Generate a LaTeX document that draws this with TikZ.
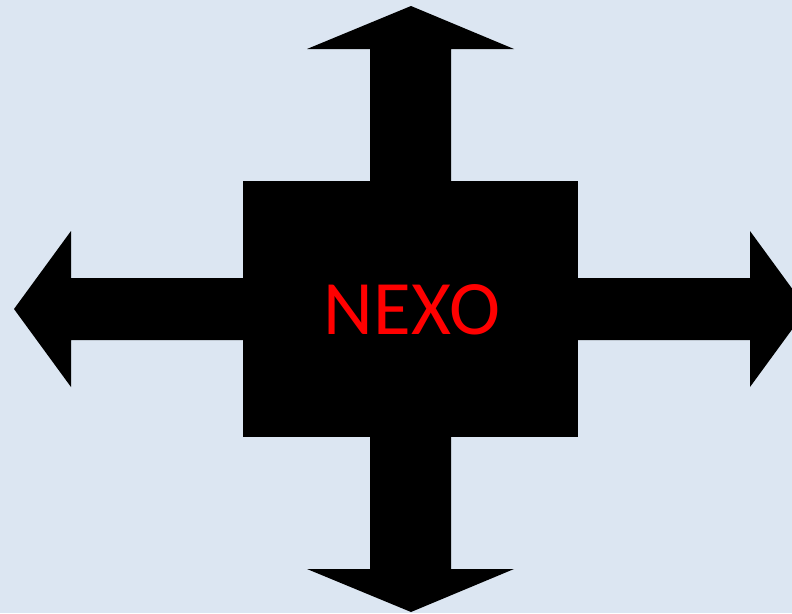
\documentclass[tikz,border=0pt]{standalone}
\usepackage{fontspec}
\newfontfamily\nexofont{Carlito}
\usetikzlibrary{positioning}
\definecolor{Sky}{HTML}{DCE6F2}
\definecolor{Ink}{HTML}{000000}
\definecolor{NexoRed}{HTML}{FF0000}

\begin{document}
\begin{tikzpicture}[x=1pt,y=-1pt]
        \useasboundingbox (0,0) rectangle (792,613);
        \fill[Sky] (0,0) rectangle (792,613);
        \clip (0,0) rectangle (792,613);
        % centre block
        \fill[Ink] (243,181) rectangle (578,437);
        % up and down
        \fill[Ink] (370,182)--(370,49)--(307,49)--(411,6)--(514,49)--(451,49)--(451,182)--cycle;
        \fill[Ink] (370,436)--(370,569)--(307,569)--(411,612)--(514,569)--(451,569)--(451,436)--cycle;
        % left and right
        \fill[Ink] (244,278)--(71,278)--(71,231)--(14,309)--(71,387)--(71,340)--(244,340)--cycle;
        \fill[Ink] (577,278)--(750,278)--(750,231)--(807,309)--(750,387)--(750,340)--(577,340)--cycle;
        \node[font=\nexofont\fontsize{77}{80}\selectfont,text=NexoRed,inner sep=0pt] (nexo) at (412,310) {NEXO};
      \end{tikzpicture}
\end{document}
